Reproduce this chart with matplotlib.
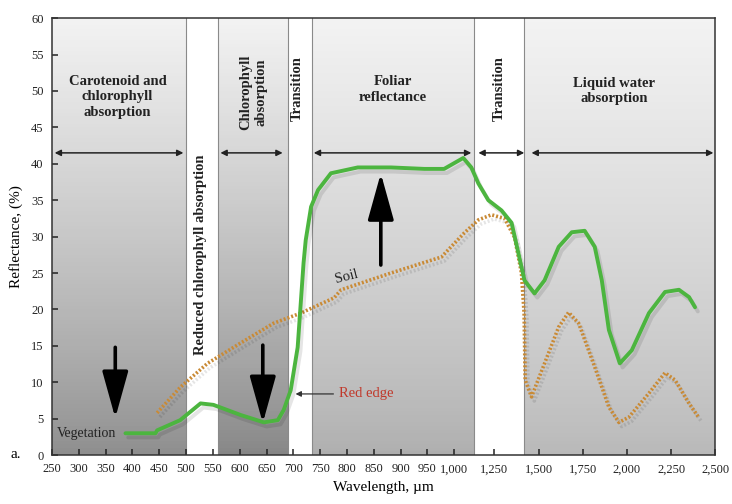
import numpy as np
import matplotlib
matplotlib.use("Agg")
import matplotlib.pyplot as plt
from matplotlib import patheffects as pe

plt.rcParams['font.family'] = ['Liberation Serif', 'DejaVu Serif']

# vegetation curve (wavelength, reflectance %)
veg_wl = [387, 443, 446, 489, 527, 551, 602, 645, 671, 682, 695, 708, 719, 723, 733,
          746, 770, 820, 882, 944, 981, 1000, 1056, 1106, 1150, 1212, 1290, 1347,
          1386, 1420, 1477, 1534, 1614, 1688, 1761, 1818, 1858, 1898, 1960, 2028,
          2125, 2216, 2295, 2352, 2386]
veg_refl = [3.0, 3.0, 3.4, 4.8, 7.1, 6.9, 5.5, 4.5, 4.8, 6.2, 8.9, 14.8, 26.4, 29.5, 34.1,
            36.4, 38.7, 39.5, 39.5, 39.3, 39.3, 40.1, 40.8, 39.5, 37.3, 35.0, 33.6, 31.9,
            27.7, 24.0, 22.2, 24.0, 28.6, 30.6, 30.8, 28.6, 24.0, 17.2, 12.6, 14.4,
            19.5, 22.4, 22.7, 21.7, 20.3]

# soil curve
soil_wl = [446, 489, 540, 602, 663, 714, 776, 789, 882, 976, 1062, 1150, 1231, 1307,
           1364, 1403, 1418, 1424, 1460, 1534, 1614, 1670, 1727, 1818, 1898, 1955,
           2011, 2125, 2216, 2273, 2352, 2409]
soil_refl = [5.8, 9.3, 12.6, 15.4, 18.1, 19.5, 21.6, 22.7, 25.0, 27.2, 30.5, 32.3, 33.0, 32.5,
             29.9, 25.0, 19.5, 10.3, 8.0, 12.6, 17.6, 19.6, 18.1, 12.1, 6.6, 4.5,
             5.2, 8.5, 11.3, 10.3, 7.1, 5.1]

# shaded (gray) regions and white gaps between them
gray_bands = [(250, 500), (560, 690), (735, 1120), (1420, 2500)]
band_lines = [500, 560, 690, 735, 1120, 1420]

region_labels = ["Carotenoid and\nchlorophyll\nabsorption", "Reduced chlorophyll absorption",
                 "Chlorophyll\nabsorption", "Transition", "Foliar\nreflectance",
                 "Transition", "Liquid water\nabsorption"]
region_x = [372, 527, 626, 708, 886, 1275, 1926]
region_y = [49.2, 27.5, 49.8, 50.3, 50.2, 50.3, 50.0]
region_rot = [0, 90, 90, 90, 0, 90, 0]

span_arrows = [(255, 495), (564, 680), (738, 1106), (1150, 1419), (1460, 2490)]
span_y = 41.5

xticks = [250, 300, 350, 400, 450, 500, 550, 600, 650, 700, 750, 800, 850, 900, 950,
          1000, 1250, 1500, 1750, 2000, 2250, 2500]
xticklabels = ["250", "300", "350", "400", "450", "500", "550", "600", "650", "700",
               "750", "800", "850", "900", "950", "1,000", "1,250", "1,500", "1,750",
               "2,000", "2,250", "2,500"]

# broken wavelength axis: 250-1000 stretched, 1000-2500 compressed
brk_wl = [250, 1000, 1250, 2500]
brk_pos = [0, 401, 441, 661]


def fwd(w):
    return np.interp(w, brk_wl, brk_pos)


def inv(p):
    return np.interp(p, brk_pos, brk_wl)


fig = plt.figure(figsize=(7.32, 5.04), dpi=100)
ax = fig.add_axes([0.071, 0.097, 0.906, 0.867])
ax.set_xscale('function', functions=(fwd, inv))
ax.set_xlim(250, 2500)
ax.set_ylim(0, 60)

# gradient fills
bottoms = [0.55, 0.52, 0.68, 0.72]
yy = np.linspace(0, 60, 121)
for (x0, x1), b in zip(gray_bands, bottoms):
    g = b + (0.95 - b) * ((yy[:-1] + yy[1:]) / 120) ** 0.8
    ax.pcolormesh([x0, x1], yy, g[:, None], cmap='gray', vmin=0, vmax=1,
                  shading='flat', zorder=0)
for x in band_lines:
    ax.axvline(x, color='#8a8a8a', lw=0.8, zorder=1)

for txt, x, y, r in zip(region_labels, region_x, region_y, region_rot):
    ax.text(x, y, txt, rotation=r, ha='center', va='center', fontsize=10.5,
            fontweight='bold', color='#222222', linespacing=1.25)

for x0, x1 in span_arrows:
    ax.annotate('', xy=(x1, span_y), xytext=(x0, span_y),
                arrowprops=dict(arrowstyle='<|-|>', color='#222222', lw=1.1,
                                mutation_scale=9, shrinkA=0, shrinkB=0))

shadow = [pe.SimpleLineShadow(offset=(2, -3), shadow_color='k', alpha=0.1), pe.Normal()]
ax.plot(soil_wl, soil_refl, color='#c98a35', lw=2.6, linestyle=(0, (0.55, 0.55)),
        zorder=3, path_effects=shadow)
ax.plot(veg_wl, veg_refl, color='#4cb53f', lw=2.8, zorder=4,
        solid_capstyle='round', path_effects=shadow)

# big black arrows
big = dict(arrowstyle='-|>,head_width=0.5,head_length=1.8', color='black', lw=2.6,
           mutation_scale=16, shrinkA=0, shrinkB=0)
ax.annotate('', xy=(368, 5.1), xytext=(368, 14.8), arrowprops=big, zorder=5)
ax.annotate('', xy=(643, 4.4), xytext=(643, 15.1), arrowprops=big, zorder=5)
ax.annotate('', xy=(863, 38.7), xytext=(863, 26.1), arrowprops=big, zorder=5)

ax.annotate('Red edge', xy=(704, 8.4), xytext=(785, 8.4), color='#c0392b',
            fontsize=10.5, va='center', ha='left',
            arrowprops=dict(arrowstyle='-|>', color='#333333', lw=0.9,
                            mutation_scale=8, shrinkA=2, shrinkB=0))
ax.text(314, 3.0, 'Vegetation', fontsize=10, ha='center', va='center', color='#222222')
ax.text(800, 23.3, 'Soil', fontsize=10.5, ha='center', va='bottom', rotation=14,
        color='#222222')

ax.set_xticks(xticks)
ax.set_xticklabels(xticklabels)
ax.set_yticks(np.arange(0, 61, 5))
ax.minorticks_off()
ax.tick_params(direction='in', length=4, width=1.1, labelsize=9, colors='#222222', pad=6)
for s in ax.spines.values():
    s.set_color('#333333')
    s.set_linewidth(1.1)

ax.set_xlabel('Wavelength, µm', fontsize=11, labelpad=4)
ax.set_ylabel('Reflectance, (%)', fontsize=11, labelpad=6)
fig.text(0.015, 0.092, 'a.', fontsize=11)

fig.savefig('out.png', dpi=100)
